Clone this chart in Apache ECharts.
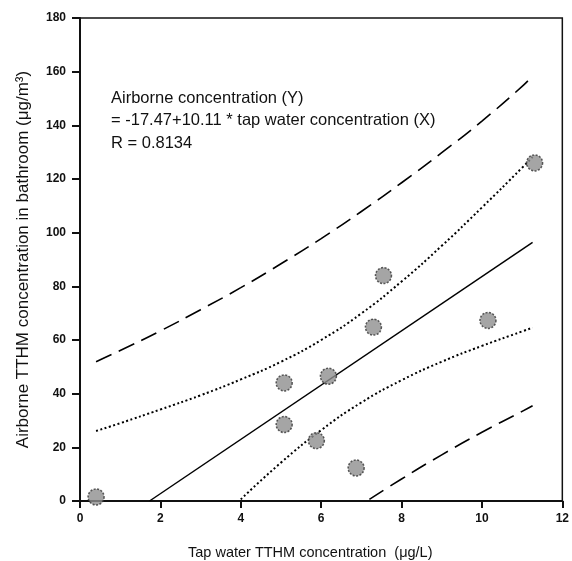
<!DOCTYPE html>
<html>
<head>
<meta charset="utf-8">
<script src="https://cdn.jsdelivr.net/npm/echarts@6/dist/echarts.min.js"></script>
<style>
  html, body { margin: 0; padding: 0; background: #fff; }
  #chart { width: 572px; height: 561px; }
</style>
</head>
<body>
<div id="chart"></div>
<script>
// measured points
const tapX = [0.4, 5.08, 5.08, 5.88, 6.18, 6.87, 7.3, 7.55, 10.15, 11.31]
const airY = [1.5, 44, 28.5, 22.5, 46.5, 12.3, 64.8, 84, 67.3, 126]

// regression line
const fitX = [1.73, 11.26]
const fitY = [0, 96.4]

// 95% bands
const bandX = [0.4, 1, 2, 3, 4, 5, 6, 7, 8, 9, 10, 11, 11.26]
const upperConf = [26.1, 29, 34.1, 39.4, 45.3, 51.9, 60, 69.9, 81.8, 95.1, 109.4, 124.2, 128.2]
const upperPred = [51.9, 56.1, 63.4, 71.3, 79.5, 88.4, 97.8, 107.9, 118.6, 129.8, 141.6, 154.5, 158.5]
const lowConfX = [4, 5, 6, 7, 8, 9, 10, 11, 11.26]
const lowerConf = [0.6, 14.3, 26.4, 36.7, 45, 51.9, 57.8, 63.2, 64.6]
const lowPredX = [7.2, 8, 9, 10, 11, 11.26]
const lowerPred = [0.6, 8.2, 17.2, 25.6, 33.4, 35.5]

const font = 'Liberation Sans, Arial, sans-serif'

function pairs(xs, ys) {
  return xs.map((x, i) => [x, ys[i]])
}

let myChart = echarts.init(document.getElementById('chart'))

let lineSeries = function(xs, ys, type, width) {
  return {
    type: 'line',
    data: pairs(xs, ys),
    smooth: true,
    symbol: 'none',
    lineStyle: { color: '#000', width: width, type: type },
    z: 2
  }
}

let option = {
  animation: false,
  backgroundColor: '#fff',
  grid: {
    left: 80,
    right: 9,
    top: 18,
    bottom: 60,
    show: true,
    borderColor: '#111',
    borderWidth: 1.5
  },
  xAxis: {
    type: 'value',
    min: 0,
    max: 12,
    interval: 2,
    splitLine: { show: false },
    axisLine: { onZero: false, lineStyle: { color: '#111', width: 2 } },
    axisTick: { length: 7, lineStyle: { color: '#111', width: 2 } },
    axisLabel: {
      margin: 12,
      color: '#111',
      fontFamily: font,
      fontWeight: 'bold',
      fontSize: 12
    }
  },
  yAxis: {
    type: 'value',
    min: 0,
    max: 180,
    interval: 20,
    splitLine: { show: false },
    axisLine: { onZero: false, lineStyle: { color: '#111', width: 2 } },
    axisTick: { length: 8, lineStyle: { color: '#111', width: 2 } },
    axisLabel: {
      margin: 14,
      color: '#111',
      fontFamily: font,
      fontWeight: 'bold',
      fontSize: 12
    },
    name: 'Airborne TTHM concentration in bathroom (μg/m³)',
    nameLocation: 'middle',
    nameGap: 48,
    nameTextStyle: { color: '#111', fontFamily: font, fontSize: 17 }
  },
  graphic: [
    {
      type: 'text',
      left: 188,
      top: 545,
      style: {
        text: 'Tap water TTHM concentration  (μg/L)',
        fill: '#111',
        font: '14.5px ' + font
      }
    },
    {
      type: 'text',
      left: 111,
      top: 87,
      style: {
        text: 'Airborne concentration (Y)\n= -17.47+10.11 * tap water concentration (X)\nR = 0.8134',
        fill: '#111',
        font: '16.5px ' + font,
        lineHeight: 22.5
      }
    }
  ],
  series: [
    lineSeries(bandX, upperPred, [17, 8], 1.6),
    lineSeries(lowPredX, lowerPred, [17, 8], 1.6),
    lineSeries(bandX, upperConf, [2, 2.5], 2),
    lineSeries(lowConfX, lowerConf, [2, 2.5], 2),
    lineSeries(fitX, fitY, 'solid', 1.5),
    {
      type: 'scatter',
      data: pairs(tapX, airY),
      symbolSize: 16,
      itemStyle: {
        color: '#8f8f8f',
        borderColor: '#333',
        borderWidth: 1.5,
        borderType: [2, 1.5]
      },
      z: 5
    }
  ]
}

myChart.setOption(option)
</script>
</body>
</html>
